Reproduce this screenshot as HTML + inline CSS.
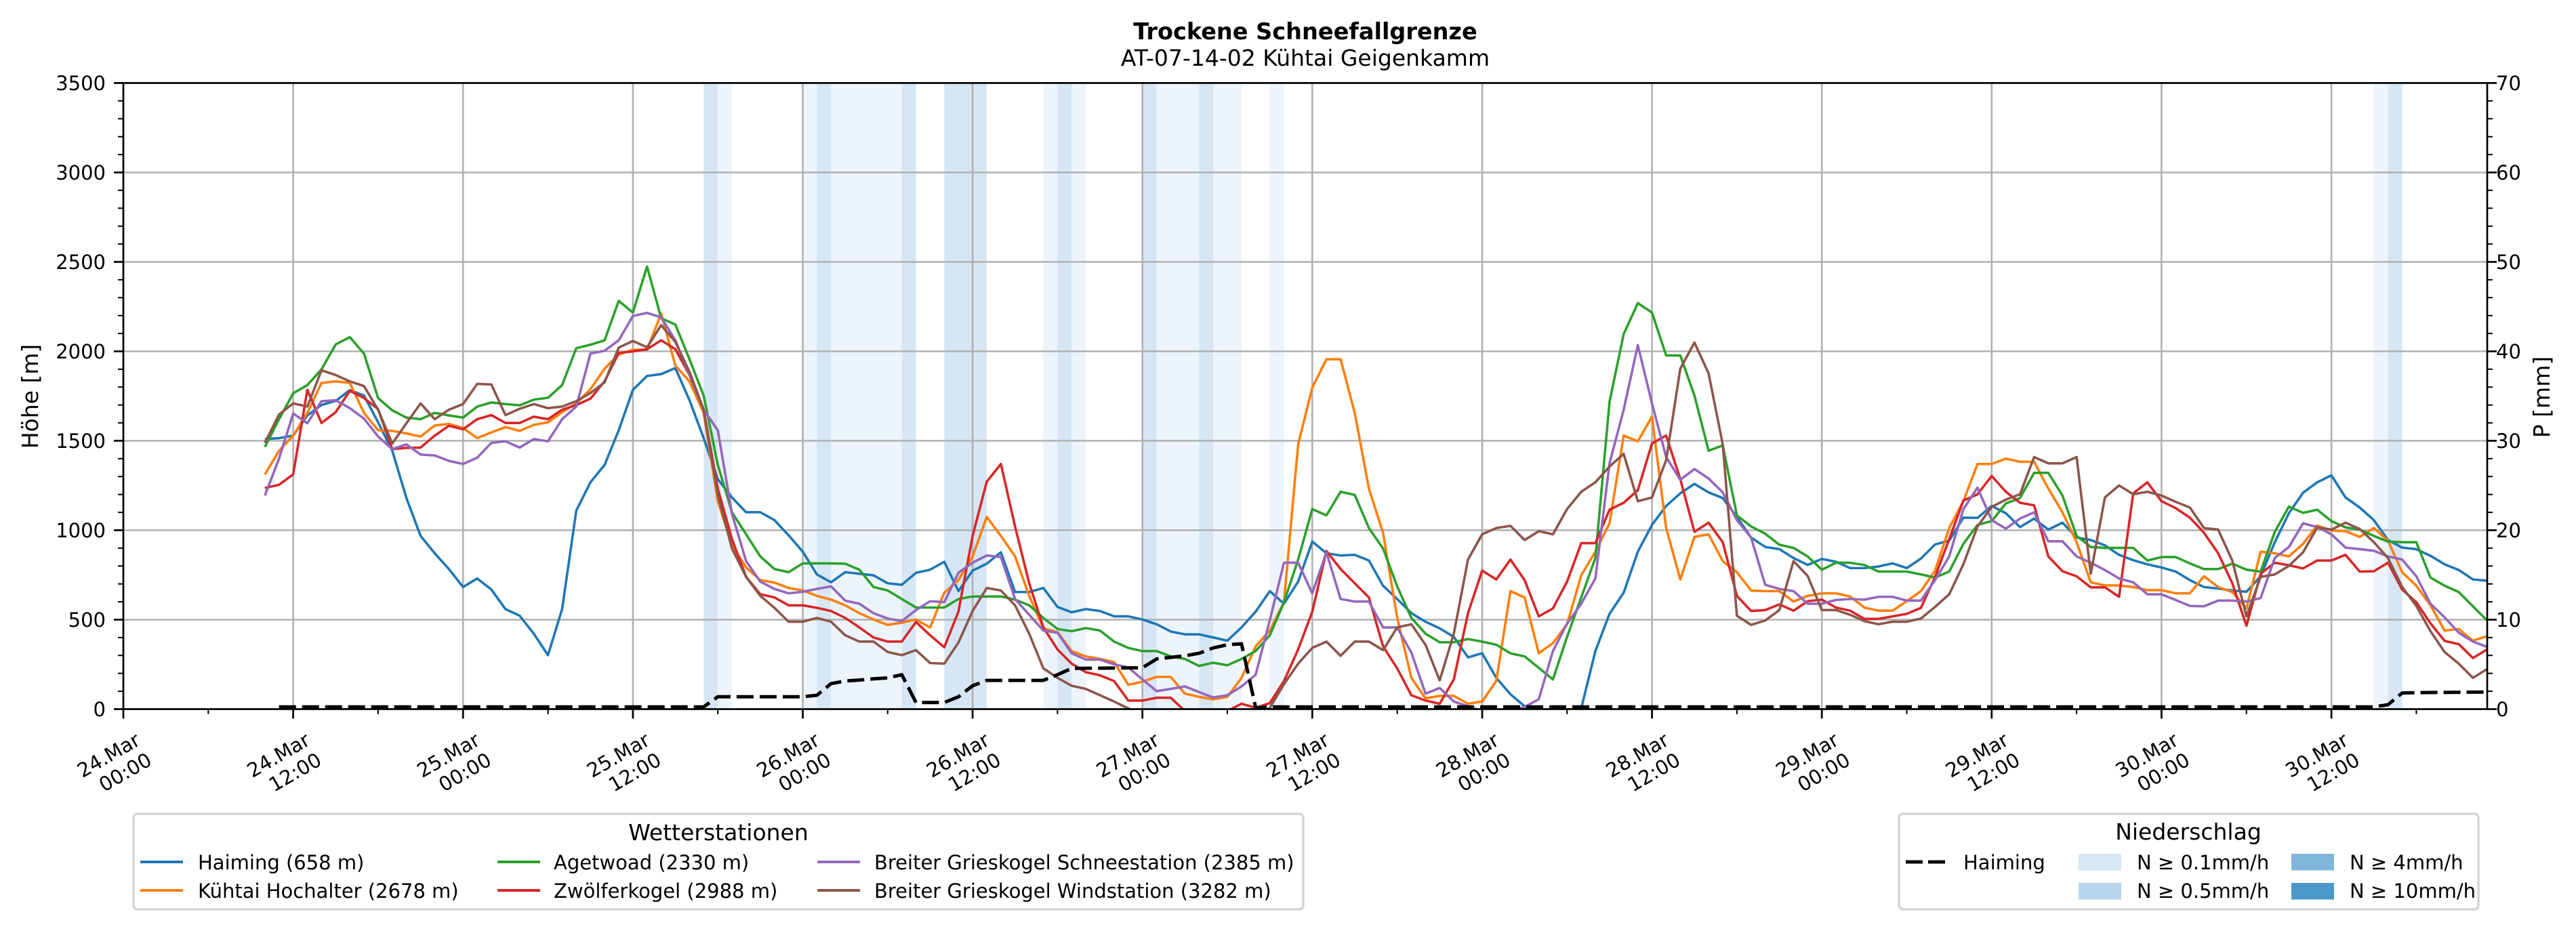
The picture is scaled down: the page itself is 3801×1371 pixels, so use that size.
<!DOCTYPE html>
<html><head><meta charset="utf-8"><style>
html,body{margin:0;padding:0;background:#fff;}
svg{display:block;font-family:"DejaVu Sans","Liberation Sans",sans-serif;}
</style></head><body>
<svg width="3801" height="1371" viewBox="0 0 3801 1371" xmlns="http://www.w3.org/2000/svg">
<rect x="0" y="0" width="3801" height="1371" fill="#fff"/>
<defs><clipPath id="ax"><rect x="182" y="122.5" width="3488" height="924"/></clipPath></defs>

<!-- precipitation bands -->
<g>
<rect x="1038.3" y="122.5" width="20.9" height="924" fill="#d7e6f4"/>
<rect x="1059.2" y="122.5" width="20.9" height="924" fill="#edf4fb"/>
<rect x="1184.5" y="122.5" width="20.9" height="924" fill="#edf4fb"/>
<rect x="1205.4" y="122.5" width="20.9" height="924" fill="#d7e6f4"/>
<rect x="1226.3" y="122.5" width="104.4" height="924" fill="#edf4fb"/>
<rect x="1330.7" y="122.5" width="20.9" height="924" fill="#d7e6f4"/>
<rect x="1393.3" y="122.5" width="62.7" height="924" fill="#d7e6f4"/>
<rect x="1539.5" y="122.5" width="20.9" height="924" fill="#edf4fb"/>
<rect x="1560.4" y="122.5" width="20.9" height="924" fill="#d7e6f4"/>
<rect x="1581.3" y="122.5" width="20.9" height="924" fill="#edf4fb"/>
<rect x="1685.7" y="122.5" width="20.9" height="924" fill="#d7e6f4"/>
<rect x="1706.6" y="122.5" width="62.7" height="924" fill="#edf4fb"/>
<rect x="1769.3" y="122.5" width="20.9" height="924" fill="#d7e6f4"/>
<rect x="1790.1" y="122.5" width="41.8" height="924" fill="#edf4fb"/>
<rect x="1873.7" y="122.5" width="20.9" height="924" fill="#edf4fb"/>
<rect x="3502.7" y="122.5" width="20.9" height="924" fill="#edf4fb"/>
<rect x="3523.6" y="122.5" width="20.9" height="924" fill="#d7e6f4"/>
</g>

<!-- grid -->
<g stroke="#b0b0b0" stroke-width="2.6">
<line x1="432.6" y1="122.5" x2="432.6" y2="1046.5"/>
<line x1="683.2" y1="122.5" x2="683.2" y2="1046.5"/>
<line x1="933.9" y1="122.5" x2="933.9" y2="1046.5"/>
<line x1="1184.5" y1="122.5" x2="1184.5" y2="1046.5"/>
<line x1="1435.1" y1="122.5" x2="1435.1" y2="1046.5"/>
<line x1="1685.7" y1="122.5" x2="1685.7" y2="1046.5"/>
<line x1="1936.3" y1="122.5" x2="1936.3" y2="1046.5"/>
<line x1="2187" y1="122.5" x2="2187" y2="1046.5"/>
<line x1="2437.6" y1="122.5" x2="2437.6" y2="1046.5"/>
<line x1="2688.2" y1="122.5" x2="2688.2" y2="1046.5"/>
<line x1="2938.8" y1="122.5" x2="2938.8" y2="1046.5"/>
<line x1="3189.4" y1="122.5" x2="3189.4" y2="1046.5"/>
<line x1="3440.1" y1="122.5" x2="3440.1" y2="1046.5"/>
<line x1="182" y1="914.5" x2="3670" y2="914.5"/>
<line x1="182" y1="782.5" x2="3670" y2="782.5"/>
<line x1="182" y1="650.5" x2="3670" y2="650.5"/>
<line x1="182" y1="518.5" x2="3670" y2="518.5"/>
<line x1="182" y1="386.5" x2="3670" y2="386.5"/>
<line x1="182" y1="254.5" x2="3670" y2="254.5"/>
</g>

<!-- series -->
<g clip-path="url(#ax)">
<g transform="matrix(20.885 0 0 0.46555 182 330)" fill="none" stroke-width="3.6" stroke-linejoin="round">
<polyline vector-effect="non-scaling-stroke" stroke="#1f77b4" points="10,683 11,680 12,672 13,608 14,575 15,562 16,528 17,545 18,630 19,720 20,870 21,990 22,1045 23,1095 24,1152 25,1125 26,1160 27,1222 28,1243 29,1300 30,1368 31,1222 32,910 33,820 34,765 35,655 36,527 37,483 38,477 39,458 40,560 41,680 42,810 43,868 44,915 45,915 46,940 47,988 48,1040 49,1112 50,1137 51,1105 52,1110 53,1115 54,1140 55,1145 56,1107 57,1097 58,1072 59,1165 60,1100 61,1078 62,1042 63,1168 64,1168 65,1155 66,1215 67,1232 68,1222 69,1228 70,1245 71,1245 72,1255 73,1270 74,1293 75,1302 76,1302 77,1312 78,1322 79,1280 80,1230 81,1165 82,1205 83,1135 84,1008 85,1045 86,1052 87,1050 88,1068 89,1148 90,1190 91,1235 92,1262 93,1283 94,1310 95,1375 96,1362 97,1440 98,1492 99,1530 100,1560 101,1570 102,1560 103,1537 104,1355 105,1237 106,1170 107,1040 108,955 109,895 110,855 111,825 112,852 113,870 114,930 115,995 116,1025 117,1032 118,1060 119,1082 120,1063 121,1072 122,1092 123,1092 124,1087 125,1077 126,1092 127,1062 128,1017 129,1005 130,932 131,933 132,895 133,918 134,962 135,935 136,970 137,948 138,995 139,1003 140,1020 141,1050 142,1067 143,1080 144,1090 145,1103 146,1130 147,1152 148,1157 149,1163 150,1167 151,1118 152,1010 153,918 154,853 155,820 156,798 157,868 158,900 159,940 160,1003 161,1027 162,1032 163,1053 164,1080 165,1098 166,1128 167,1132"/>
<polyline vector-effect="non-scaling-stroke" stroke="#ff7f0e" points="10,795 11,720 12,672 13,600 14,505 15,500 16,505 17,600 18,655 19,657 20,665 21,675 22,640 23,635 24,648 25,680 26,662 27,645 28,657 29,638 30,630 31,598 32,570 33,525 34,460 35,415 36,400 37,400 38,285 39,450 40,500 41,600 42,880 43,1020 44,1090 45,1130 46,1138 47,1155 48,1163 49,1180 50,1192 51,1210 52,1235 53,1255 54,1272 55,1265 56,1255 57,1280 58,1170 59,1130 60,1055 61,930 62,990 63,1055 64,1180 65,1283 66,1295 67,1355 68,1372 69,1380 70,1390 71,1462 72,1452 73,1437 74,1437 75,1490 76,1500 77,1508 78,1500 79,1440 80,1340 81,1290 82,1200 83,700 84,520 85,430 86,430 87,600 88,840 89,980 90,1250 91,1440 92,1505 93,1497 94,1497 95,1522 96,1515 97,1450 98,1165 99,1185 100,1362 101,1330 102,1270 103,1115 104,1040 105,950 106,672 107,690 108,612 109,965 110,1128 111,993 112,985 113,1070 114,1105 115,1163 116,1165 117,1165 118,1198 119,1180 120,1172 121,1172 122,1182 123,1217 124,1227 125,1227 126,1197 127,1165 128,1100 129,965 130,880 131,762 132,762 133,745 134,755 135,755 136,840 137,915 138,1010 139,1137 140,1147 141,1147 142,1152 143,1162 144,1162 145,1172 146,1172 147,1118 148,1152 149,1168 150,1220 151,1040 152,1045 153,1055 154,1015 155,957 156,973 157,975 158,993 159,965 160,1005 161,1105 162,1148 163,1210 164,1290 165,1285 166,1322 167,1308"/>
<polyline vector-effect="non-scaling-stroke" stroke="#2ca02c" points="10,708 11,620 12,538 13,512 14,462 15,383 16,360 17,412 18,553 19,592 20,615 21,620 22,600 23,608 24,615 25,580 26,567 27,572 28,576 29,558 30,552 31,512 32,395 33,384 34,370 35,245 36,282 37,136 38,300 39,320 40,430 41,545 42,765 43,915 44,985 45,1055 46,1095 47,1105 48,1077 49,1077 50,1077 51,1078 52,1097 53,1152 54,1163 55,1190 56,1217 57,1217 58,1217 59,1190 60,1182 61,1182 62,1182 63,1192 64,1210 65,1250 66,1285 67,1292 68,1282 69,1290 70,1325 71,1345 72,1355 73,1355 74,1372 75,1380 76,1402 77,1392 78,1400 79,1380 80,1355 81,1305 82,1200 83,1065 84,905 85,925 86,850 87,860 88,965 89,1030 90,1150 91,1250 92,1300 93,1327 94,1327 95,1317 96,1325 97,1335 98,1362 99,1372 100,1408 101,1445 102,1310 103,1185 104,1060 105,565 106,350 107,252 108,282 109,418 110,418 111,545 112,720 113,703 114,925 115,960 116,983 117,1018 118,1028 119,1055 120,1097 121,1075 122,1075 123,1082 124,1103 125,1103 126,1103 127,1112 128,1122 129,1103 130,1015 131,955 132,943 133,887 134,870 135,790 136,790 137,862 138,990 139,1025 140,1028 141,1028 142,1028 143,1068 144,1057 145,1057 146,1077 147,1095 148,1095 149,1078 150,1097 151,1103 152,977 153,897 154,917 155,907 156,943 157,963 158,970 159,990 160,1008 161,1010 162,1010 163,1122 164,1148 165,1168 166,1213 167,1258"/>
<polyline vector-effect="non-scaling-stroke" stroke="#d62728" points="10,838 11,828 12,795 13,527 14,632 15,598 16,530 17,553 18,588 19,715 20,711 21,710 22,672 23,641 24,652 25,620 26,607 27,632 28,632 29,612 30,620 31,590 32,575 33,555 34,500 35,410 36,405 37,398 38,370 39,398 40,480 41,590 42,840 43,1000 44,1120 45,1175 46,1185 47,1210 48,1210 49,1218 50,1228 51,1250 52,1280 53,1312 54,1325 55,1325 56,1263 57,1305 58,1343 59,1230 60,990 61,818 62,762 63,960 64,1140 65,1280 66,1350 67,1395 68,1422 69,1432 70,1450 71,1512 72,1512 73,1503 74,1503 75,1545 76,1555 77,1555 78,1545 79,1522 80,1535 81,1520 82,1450 83,1350 84,1230 85,1038 86,1095 87,1140 88,1185 89,1340 90,1410 91,1495 92,1512 93,1522 94,1445 95,1235 96,1100 97,1128 98,1065 99,1130 100,1245 101,1220 102,1135 103,1013 104,1013 105,907 106,885 107,845 108,697 109,672 110,810 111,977 112,948 113,1010 114,1180 115,1228 116,1225 117,1207 118,1227 119,1197 120,1192 121,1217 122,1227 123,1253 124,1253 125,1245 126,1237 127,1218 128,1120 129,1000 130,878 131,858 132,800 133,850 134,885 135,893 136,1055 137,1102 138,1118 139,1153 140,1153 141,1183 142,855 143,820 144,880 145,902 146,932 147,980 148,1045 149,1140 150,1275 151,1110 152,1075 153,1083 154,1093 155,1068 156,1068 157,1050 158,1103 159,1102 160,1075 161,1160 162,1200 163,1267 164,1323 165,1333 166,1377 167,1350"/>
<polyline vector-effect="non-scaling-stroke" stroke="#9467bd" points="10,862 11,745 12,602 13,633 14,563 15,560 16,585 17,618 18,675 19,715 20,700 21,732 22,735 23,752 24,762 25,742 26,695 27,690 28,710 29,683 30,690 31,620 32,580 33,412 34,403 35,370 36,293 37,283 38,297 39,370 40,480 41,590 42,655 43,920 44,1070 45,1135 46,1158 47,1172 48,1167 49,1158 50,1150 51,1195 52,1205 53,1235 54,1252 55,1260 56,1225 57,1197 58,1200 59,1107 60,1075 61,1052 62,1057 63,1190 64,1240 65,1290 66,1297 67,1362 68,1382 69,1382 70,1397 71,1407 72,1445 73,1482 74,1475 75,1467 76,1485 77,1502 78,1495 79,1467 80,1430 81,1257 82,1075 83,1075 84,1172 85,1042 86,1190 87,1198 88,1198 89,1280 90,1280 91,1360 92,1490 93,1472 94,1515 95,1530 96,1545 97,1550 98,1545 99,1532 100,1508 101,1355 102,1268 103,1205 104,1125 105,760 106,590 107,385 108,570 109,740 110,812 111,778 112,808 113,852 114,940 115,995 116,1145 117,1158 118,1165 119,1205 120,1205 121,1193 122,1190 123,1192 124,1183 125,1183 126,1195 127,1195 128,1130 129,1055 130,905 131,837 132,940 133,967 134,935 135,915 136,1007 137,1007 138,1055 139,1075 140,1098 141,1125 142,1137 143,1175 144,1175 145,1193 146,1212 147,1213 148,1195 149,1195 150,1198 151,1187 152,1060 153,1025 154,950 155,962 156,985 157,1027 158,1032 159,1037 160,1055 161,1065 162,1118 163,1205 164,1248 165,1297 166,1325 167,1342"/>
<polyline vector-effect="non-scaling-stroke" stroke="#8c564b" points="10,695 11,605 12,570 13,580 14,465 15,480 16,500 17,515 18,590 19,697 20,633 21,570 22,620 23,590 24,572 25,508 26,510 27,607 28,587 29,572 30,585 31,580 32,563 33,537 34,503 35,393 36,372 37,392 38,322 39,375 40,470 41,590 42,860 43,1030 44,1120 45,1180 46,1218 47,1262 48,1262 49,1250 50,1262 51,1305 52,1325 53,1325 54,1358 55,1368 56,1352 57,1393 58,1395 59,1328 60,1228 61,1155 62,1163 63,1210 64,1300 65,1410 66,1440 67,1465 68,1475 69,1495 70,1515 71,1537 72,1555 73,1560 74,1560 75,1560 76,1560 77,1560 78,1560 79,1560 80,1555 81,1535 82,1460 83,1395 84,1345 85,1325 86,1370 87,1325 88,1325 89,1352 90,1280 91,1270 92,1335 93,1448 94,1300 95,1065 96,985 97,965 98,958 99,1003 100,975 101,985 102,905 103,850 104,820 105,770 106,730 107,880 108,868 109,750 110,460 111,377 112,475 113,700 114,1243 115,1272 116,1258 117,1225 118,1070 119,1117 120,1225 121,1225 122,1240 123,1260 124,1270 125,1262 126,1262 127,1252 128,1215 129,1175 130,1080 131,960 132,898 133,875 134,858 135,740 136,760 137,760 138,740 139,1110 140,868 141,830 142,858 143,850 144,862 145,882 146,900 147,965 148,970 149,1068 150,1245 151,1120 152,1112 153,1085 154,1042 155,963 156,970 157,948 158,968 159,1010 160,1060 161,1152 162,1212 163,1292 164,1358 165,1395 166,1440 167,1412"/>
</g>
<polyline fill="none" stroke="#000" stroke-width="5" stroke-dasharray="25 9" stroke-linejoin="round" points="411.7,1043.2 1038.3,1043.2 1059.2,1028.3 1184.5,1028.3 1205.4,1026 1226.3,1008.8 1247.1,1005 1268,1003.6 1288.9,1001.8 1309.8,1000.4 1330.7,995.7 1351.6,1036.7 1393.3,1036.7 1414.2,1028.3 1435.1,1012 1456,1004.1 1539.5,1004.1 1560.4,995.7 1581.3,986.4 1685.7,985.5 1706.6,972.5 1727.5,970.1 1748.4,967.8 1769.3,964.1 1790.1,956.2 1811,951.5 1831.9,950.1 1852.8,1044.5 1873.7,1043.2 3502.7,1043.2 3523.6,1040 3544.5,1022.7 3565.4,1022.2 3669.8,1021.3"/>
</g>

<!-- spines -->
<rect x="182" y="122.5" width="3488" height="924" fill="none" stroke="#000" stroke-width="2.7"/>

<!-- ticks -->
<g stroke="#000" stroke-width="2.7">
<line x1="168" y1="1046.5" x2="182" y2="1046.5"/><line x1="168" y1="914.5" x2="182" y2="914.5"/><line x1="168" y1="782.5" x2="182" y2="782.5"/><line x1="168" y1="650.5" x2="182" y2="650.5"/><line x1="168" y1="518.5" x2="182" y2="518.5"/><line x1="168" y1="386.5" x2="182" y2="386.5"/><line x1="168" y1="254.5" x2="182" y2="254.5"/><line x1="168" y1="122.5" x2="182" y2="122.5"/>
<line x1="3670" y1="1046.5" x2="3684" y2="1046.5"/><line x1="3670" y1="914.5" x2="3684" y2="914.5"/><line x1="3670" y1="782.5" x2="3684" y2="782.5"/><line x1="3670" y1="650.5" x2="3684" y2="650.5"/><line x1="3670" y1="518.5" x2="3684" y2="518.5"/><line x1="3670" y1="386.5" x2="3684" y2="386.5"/><line x1="3670" y1="254.5" x2="3684" y2="254.5"/><line x1="3670" y1="122.5" x2="3684" y2="122.5"/>
<line x1="182" y1="1046.5" x2="182" y2="1060.5"/><line x1="432.6" y1="1046.5" x2="432.6" y2="1060.5"/><line x1="683.2" y1="1046.5" x2="683.2" y2="1060.5"/><line x1="933.9" y1="1046.5" x2="933.9" y2="1060.5"/><line x1="1184.5" y1="1046.5" x2="1184.5" y2="1060.5"/><line x1="1435.1" y1="1046.5" x2="1435.1" y2="1060.5"/><line x1="1685.7" y1="1046.5" x2="1685.7" y2="1060.5"/><line x1="1936.3" y1="1046.5" x2="1936.3" y2="1060.5"/><line x1="2187" y1="1046.5" x2="2187" y2="1060.5"/><line x1="2437.6" y1="1046.5" x2="2437.6" y2="1060.5"/><line x1="2688.2" y1="1046.5" x2="2688.2" y2="1060.5"/><line x1="2938.8" y1="1046.5" x2="2938.8" y2="1060.5"/><line x1="3189.4" y1="1046.5" x2="3189.4" y2="1060.5"/><line x1="3440.1" y1="1046.5" x2="3440.1" y2="1060.5"/>
</g>
<g stroke="#000" stroke-width="2">
<path d="M174 1020.1H182M174 993.7H182M174 967.3H182M174 940.9H182M174 888.1H182M174 861.7H182M174 835.3H182M174 808.9H182M174 756.1H182M174 729.7H182M174 703.3H182M174 676.9H182M174 624.1H182M174 597.7H182M174 571.3H182M174 544.9H182M174 492.1H182M174 465.7H182M174 439.3H182M174 412.9H182M174 360.1H182M174 333.7H182M174 307.3H182M174 280.9H182M174 228.1H182M174 201.7H182M174 175.3H182M174 148.9H182"/>
<path d="M3670 1020.1H3678M3670 993.7H3678M3670 967.3H3678M3670 940.9H3678M3670 888.1H3678M3670 861.7H3678M3670 835.3H3678M3670 808.9H3678M3670 756.1H3678M3670 729.7H3678M3670 703.3H3678M3670 676.9H3678M3670 624.1H3678M3670 597.7H3678M3670 571.3H3678M3670 544.9H3678M3670 492.1H3678M3670 465.7H3678M3670 439.3H3678M3670 412.9H3678M3670 360.1H3678M3670 333.7H3678M3670 307.3H3678M3670 280.9H3678M3670 228.1H3678M3670 201.7H3678M3670 175.3H3678M3670 148.9H3678"/>
<path d="M307.3 1046.5V1054M557.9 1046.5V1054M808.6 1046.5V1054M1059.2 1046.5V1054M1309.8 1046.5V1054M1560.4 1046.5V1054M1811 1046.5V1054M2061.7 1046.5V1054M2312.3 1046.5V1054M2562.9 1046.5V1054M2813.5 1046.5V1054M3064.1 1046.5V1054M3314.7 1046.5V1054M3565.4 1046.5V1054"/>
</g>

<!-- y tick labels -->
<g font-size="29" fill="#000" text-anchor="end">
<text x="156" y="1057">0</text><text x="156" y="925">500</text><text x="156" y="793">1000</text><text x="156" y="661">1500</text><text x="156" y="529">2000</text><text x="156" y="397">2500</text><text x="156" y="265">3000</text><text x="156" y="133">3500</text>
</g>
<g font-size="29" fill="#000">
<text x="3683" y="1057">0</text><text x="3683" y="925">10</text><text x="3683" y="793">20</text><text x="3683" y="661">30</text><text x="3683" y="529">40</text><text x="3683" y="397">50</text><text x="3683" y="265">60</text><text x="3683" y="133">70</text>
</g>

<!-- x tick labels -->
<g font-size="29" fill="#000" text-anchor="end">
<text transform="translate(209,1098) rotate(-30)"><tspan x="0" y="0">24.Mar</tspan><tspan x="0" y="34">00:00</tspan></text>
<text transform="translate(459.6,1098) rotate(-30)"><tspan x="0" y="0">24.Mar</tspan><tspan x="0" y="34">12:00</tspan></text>
<text transform="translate(710.2,1098) rotate(-30)"><tspan x="0" y="0">25.Mar</tspan><tspan x="0" y="34">00:00</tspan></text>
<text transform="translate(960.9,1098) rotate(-30)"><tspan x="0" y="0">25.Mar</tspan><tspan x="0" y="34">12:00</tspan></text>
<text transform="translate(1211.5,1098) rotate(-30)"><tspan x="0" y="0">26.Mar</tspan><tspan x="0" y="34">00:00</tspan></text>
<text transform="translate(1462.1,1098) rotate(-30)"><tspan x="0" y="0">26.Mar</tspan><tspan x="0" y="34">12:00</tspan></text>
<text transform="translate(1712.7,1098) rotate(-30)"><tspan x="0" y="0">27.Mar</tspan><tspan x="0" y="34">00:00</tspan></text>
<text transform="translate(1963.3,1098) rotate(-30)"><tspan x="0" y="0">27.Mar</tspan><tspan x="0" y="34">12:00</tspan></text>
<text transform="translate(2214,1098) rotate(-30)"><tspan x="0" y="0">28.Mar</tspan><tspan x="0" y="34">00:00</tspan></text>
<text transform="translate(2464.6,1098) rotate(-30)"><tspan x="0" y="0">28.Mar</tspan><tspan x="0" y="34">12:00</tspan></text>
<text transform="translate(2715.2,1098) rotate(-30)"><tspan x="0" y="0">29.Mar</tspan><tspan x="0" y="34">00:00</tspan></text>
<text transform="translate(2965.8,1098) rotate(-30)"><tspan x="0" y="0">29.Mar</tspan><tspan x="0" y="34">12:00</tspan></text>
<text transform="translate(3216.4,1098) rotate(-30)"><tspan x="0" y="0">30.Mar</tspan><tspan x="0" y="34">00:00</tspan></text>
<text transform="translate(3467.1,1098) rotate(-30)"><tspan x="0" y="0">30.Mar</tspan><tspan x="0" y="34">12:00</tspan></text>
</g>

<!-- axis labels -->
<text transform="translate(56,585) rotate(-90)" text-anchor="middle" font-size="33" fill="#000">Höhe [m]</text>
<text transform="translate(3762,586) rotate(-90)" text-anchor="middle" font-size="33" fill="#000">P [mm]</text>

<!-- title -->
<text x="1926" y="58" text-anchor="middle" font-size="33.5" font-weight="bold" fill="#000">Trockene Schneefallgrenze</text>
<text x="1926" y="97" text-anchor="middle" font-size="33" fill="#000">AT-07-14-02 Kühtai Geigenkamm</text>

<!-- legend 1 -->
<rect x="197" y="1201" width="1726" height="141" rx="6" ry="6" fill="#fff" stroke="#d5d5d5" stroke-width="3.5"/>
<text x="1060" y="1240" text-anchor="middle" font-size="33" fill="#000">Wetterstationen</text>
<g stroke-width="4">
<line x1="207" y1="1272" x2="270" y2="1272" stroke="#1f77b4"/>
<line x1="207" y1="1314" x2="270" y2="1314" stroke="#ff7f0e"/>
<line x1="734" y1="1272" x2="797" y2="1272" stroke="#2ca02c"/>
<line x1="734" y1="1314" x2="797" y2="1314" stroke="#d62728"/>
<line x1="1206" y1="1272" x2="1269" y2="1272" stroke="#9467bd"/>
<line x1="1206" y1="1314" x2="1269" y2="1314" stroke="#8c564b"/>
</g>
<g font-size="29" fill="#000">
<text x="292" y="1283">Haiming (658 m)</text>
<text x="292" y="1325">Kühtai Hochalter (2678 m)</text>
<text x="817" y="1283">Agetwoad (2330 m)</text>
<text x="817" y="1325">Zwölferkogel (2988 m)</text>
<text x="1290" y="1283">Breiter Grieskogel Schneestation (2385 m)</text>
<text x="1290" y="1325">Breiter Grieskogel Windstation (3282 m)</text>
</g>

<!-- legend 2 -->
<rect x="2802" y="1201" width="855" height="141" rx="6" ry="6" fill="#fff" stroke="#d5d5d5" stroke-width="3.5"/>
<text x="3229" y="1239" text-anchor="middle" font-size="33" fill="#000">Niederschlag</text>
<line x1="2812" y1="1272" x2="2870" y2="1272" stroke="#000" stroke-width="5" stroke-dasharray="25 8"/>
<rect x="3067" y="1260" width="63" height="24.5" fill="#d8e7f5"/>
<rect x="3067" y="1303" width="63" height="24.5" fill="#b8d4ea"/>
<rect x="3381" y="1260" width="63" height="24.5" fill="#80b6d9"/>
<rect x="3381" y="1303" width="63" height="24.5" fill="#4b97c9"/>
<g font-size="29" fill="#000">
<text x="2897" y="1283">Haiming</text>
<text x="3153" y="1283">N ≥ 0.1mm/h</text>
<text x="3153" y="1325">N ≥ 0.5mm/h</text>
<text x="3467" y="1283">N ≥ 4mm/h</text>
<text x="3467" y="1325">N ≥ 10mm/h</text>
</g>
</svg>
</body></html>
